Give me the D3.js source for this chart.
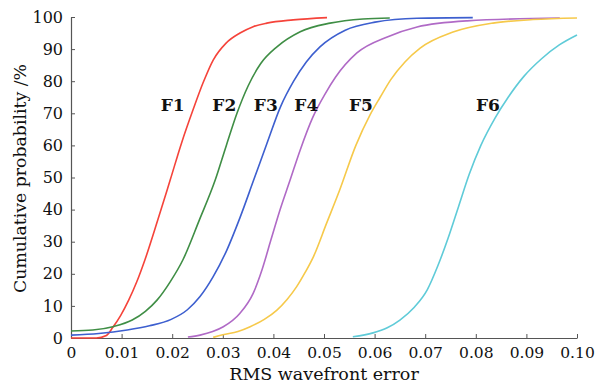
<!DOCTYPE html>
<html>
<head>
<meta charset="utf-8">
<script src="https://cdn.jsdelivr.net/npm/d3@7"></script>
<style>
  html, body { margin: 0; padding: 0; background: #fff; }
  svg { display: block; }
  text { font-family: "DejaVu Serif", "Liberation Serif", serif; fill: #111; }
</style>
</head>
<body>
<svg id="chart" width="596" height="384"></svg>
<script>
// ---- data ----
const seriesNames = ["F1", "F2", "F3", "F4", "F5", "F6"];
const seriesColors = ["#f5433a", "#3f8e45", "#3d5fcf", "#b06ac6", "#f6c94a", "#5fcbd8"];

const F1 = [[0, 0], [0.005, 0], [0.0070, 0.8], [0.0083, 3.4], [0.0098, 7.0], [0.0114, 11.8], [0.0130, 17.5],
  [0.0146, 24.3], [0.0171, 36.5], [0.0196, 49.2], [0.0219, 61.0], [0.0241, 71.0], [0.0261, 79.5],
  [0.0281, 86.6], [0.0306, 91.8], [0.0334, 95.0], [0.0360, 97.0], [0.0387, 98.1], [0.0439, 99.1], [0.0506, 99.8]];
const F2 = [[0, 2.2], [0.0043, 2.5], [0.0085, 3.6], [0.0121, 5.6], [0.0147, 8.3], [0.0170, 11.8],
  [0.0196, 17.5], [0.0221, 24.3], [0.0253, 36.5], [0.0285, 49.2], [0.0307, 60.0], [0.0328, 70.0],
  [0.0350, 78.5], [0.0375, 85.5], [0.0407, 90.7], [0.0453, 95.4], [0.0512, 98.1], [0.0577, 99.4], [0.0630, 99.7]];
const F3 = [[0, 0.9], [0.0055, 1.4], [0.0111, 2.5], [0.0155, 3.8], [0.0198, 5.8], [0.0230, 8.8],
  [0.0255, 12.9], [0.0281, 19.1], [0.0308, 27.4], [0.0334, 37.5], [0.0361, 49.2], [0.0387, 60.5],
  [0.0414, 72.0], [0.0440, 80.0], [0.0465, 86.0], [0.0492, 90.7], [0.0542, 95.9], [0.0601, 98.4],
  [0.0684, 99.6], [0.0794, 99.8]];
const F4 = [[0.0231, 0.3], [0.0255, 0.9], [0.0280, 2.0], [0.0301, 3.5], [0.0334, 7.7], [0.0360, 13.9],
  [0.0378, 21.5], [0.0395, 30.5], [0.0413, 39.9], [0.0433, 49.2], [0.0453, 58.6], [0.0478, 68.8],
  [0.0502, 76.0], [0.0523, 81.3], [0.0565, 88.8], [0.0625, 93.8], [0.0684, 96.9], [0.0783, 98.8], [0.0966, 99.7]];
const F5 = [[0.0281, 0.2], [0.0300, 1.0], [0.0330, 2.0], [0.0354, 3.5], [0.0382, 5.8], [0.0407, 8.7],
  [0.0427, 12.0], [0.0446, 16.0], [0.0463, 20.5], [0.0479, 25.3], [0.0505, 35.7], [0.0531, 46.1],
  [0.0563, 60.0], [0.0591, 69.5], [0.0611, 75.0], [0.0632, 80.5], [0.0660, 86.0], [0.0690, 90.3],
  [0.0755, 95.3], [0.0834, 98.1], [0.0913, 99.2], [0.1, 99.7]];
const F6 = [[0.0557, 0.4], [0.0597, 1.6], [0.0625, 3.2], [0.0650, 5.6], [0.0678, 9.5], [0.0704, 15.0],
  [0.0725, 22.5], [0.0745, 31.0], [0.0766, 41.0], [0.0787, 51.0], [0.0810, 60.0], [0.0838, 68.5],
  [0.0864, 75.0], [0.0895, 81.5], [0.0930, 87.0], [0.0965, 91.3], [0.1, 94.4]];
const seriesData = [F1, F2, F3, F4, F5, F6];

// label positions in data units (x center, y baseline)
const labelX = [0.0201, 0.0303, 0.0385, 0.0465, 0.0573, 0.0824];
const labelY = [71, 71, 71, 71, 71, 71];

const xTicks = [0, 0.01, 0.02, 0.03, 0.04, 0.05, 0.06, 0.07, 0.08, 0.09, 0.10];
const xTickLabels = ["0", "0.01", "0.02", "0.03", "0.04", "0.05", "0.06", "0.07", "0.08", "0.09", "0.10"];
const yTicks = [0, 10, 20, 30, 40, 50, 60, 70, 80, 90, 100];
const xTitle = "RMS wavefront error";
const yTitle = "Cumulative probability /%";

// ---- layout ----
const svg = d3.select("#chart");
const margin = { left: 71, right: 19, top: 17, bottom: 46 };
const W = 596, H = 384;
const x = d3.scaleLinear().domain([0, 0.1]).range([margin.left, W - margin.right]);
const y = d3.scaleLinear().domain([0, 100]).range([H - margin.bottom, margin.top]);

const axisColor = "#555";

// x axis
const xAxis = d3.axisBottom(x).tickValues(xTicks)
  .tickFormat((d, i) => xTickLabels[i]).tickSizeInner(-4).tickSizeOuter(0).tickPadding(9);
const gx = svg.append("g").attr("transform", `translate(0,${y(0)})`).call(xAxis);
gx.select(".domain").attr("stroke", axisColor).attr("stroke-width", 1.2);
gx.selectAll(".tick line").attr("stroke", axisColor);
gx.selectAll(".tick text").attr("font-size", 15.5).attr("fill", "#111")
  .attr("font-family", "DejaVu Serif, serif");

// y axis
const yAxis = d3.axisLeft(y).tickValues(yTicks).tickSizeInner(-4).tickSizeOuter(0).tickPadding(8);
const gy = svg.append("g").attr("transform", `translate(${x(0)},0)`).call(yAxis);
gy.select(".domain").attr("stroke", axisColor).attr("stroke-width", 1.2);
gy.selectAll(".tick line").attr("stroke", axisColor);
gy.selectAll(".tick text").attr("font-size", 16).attr("fill", "#111")
  .attr("font-family", "DejaVu Serif, serif");

// titles
svg.append("text").attr("x", x(0.05)).attr("y", 380).attr("text-anchor", "middle")
  .attr("font-size", 17.5).text(xTitle);
svg.append("text").attr("transform", `translate(26,${y(50) + 1}) rotate(-90)`)
  .attr("text-anchor", "middle").attr("font-size", 17.3).text(yTitle);

// lines
const line = d3.line().x(d => x(d[0])).y(d => y(d[1])).curve(d3.curveMonotoneX);
svg.append("g").selectAll("path").data(seriesData).join("path")
  .attr("d", line).attr("fill", "none")
  .attr("stroke", (d, i) => seriesColors[i]).attr("stroke-width", 1.6);

// labels
svg.append("g").selectAll("text").data(seriesNames).join("text")
  .attr("x", (d, i) => x(labelX[i])).attr("y", (d, i) => y(labelY[i]) + 1)
  .attr("text-anchor", "middle").attr("font-size", 17).attr("font-weight", "bold")
  .text(d => d);
</script>
</body>
</html>
